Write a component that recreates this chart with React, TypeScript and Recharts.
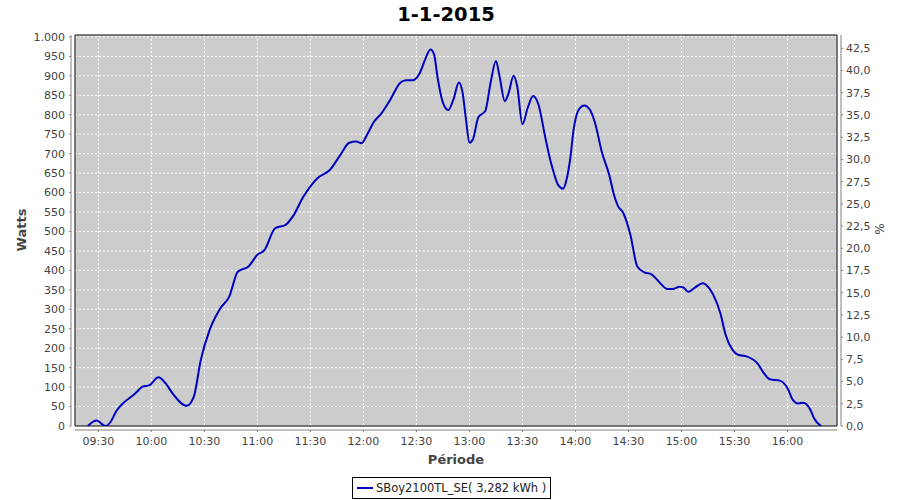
import { CartesianGrid, Line, LineChart, ReferenceArea, XAxis, YAxis } from 'recharts'

const title = '1-1-2015'
const seriesName = 'SBoy2100TL_SE( 3,282 kWh )'

// readings (time of day, watts)
const times = [
  '09:24', '09:29', '09:34', '09:37', '09:40', '09:43', '09:51', '09:55', '09:59', '10:04',
  '10:08', '10:12', '10:20', '10:24', '10:28', '10:33', '10:39', '10:44', '10:49', '10:55',
  '11:00', '11:04', '11:10', '11:16', '11:20', '11:26', '11:34', '11:41', '11:47', '11:52',
  '11:56', '11:59', '12:02', '12:06', '12:10', '12:15', '12:21', '12:24', '12:28', '12:32',
  '12:35', '12:38', '12:40', '12:42', '12:45', '12:48', '12:51', '12:54', '12:56', '12:58',
  '13:00', '13:02', '13:05', '13:09', '13:12', '13:15', '13:17', '13:20', '13:22', '13:25',
  '13:27', '13:30', '13:33', '13:36', '13:39', '13:43', '13:46', '13:48', '13:50', '13:53',
  '13:55', '13:57', '13:59', '14:02', '14:05', '14:08', '14:11', '14:15', '14:19', '14:22',
  '14:24', '14:27', '14:31', '14:35', '14:39', '14:43', '14:48', '14:52', '14:55', '14:59',
  '15:01', '15:04', '15:08', '15:12', '15:15', '15:18', '15:22', '15:25', '15:29', '15:32',
  '15:36', '15:43', '15:46', '15:50', '15:56', '16:00', '16:03', '16:06', '16:09', '16:13',
  '16:15', '16:19',
]
const watts = [
  0, 14, 0, 11, 37, 54, 84, 101, 105, 125,
  110, 84, 52, 75, 170, 247, 302, 332, 397, 410,
  440, 452, 508, 517, 538, 589, 637, 658, 697, 728,
  731, 727, 748, 782, 802, 837, 883, 889, 889, 908,
  943, 968, 955, 895, 831, 812, 840, 883, 860, 790,
  728, 737, 793, 810, 883, 938, 900, 835, 853, 900,
  874, 776, 818, 848, 827, 740, 679, 647, 621, 610,
  634, 686, 763, 814, 824, 814, 780, 703, 647, 591,
  566, 548, 493, 410, 395, 390, 367, 352, 352, 358,
  356, 345, 357, 367, 358, 337, 290, 234, 195, 183,
  180, 161, 140, 120, 116, 97, 67, 58, 60, 41,
  20, 0,
]

const timeTicks = [
  '09:30', '10:00', '10:30', '11:00', '11:30', '12:00', '12:30',
  '13:00', '13:30', '14:00', '14:30', '15:00', '15:30', '16:00',
]
const wattTicks = [
  0, 50, 100, 150, 200, 250, 300, 350, 400, 450, 500,
  550, 600, 650, 700, 750, 800, 850, 900, 950, 1000,
]
const pctTicks = [
  0, 2.5, 5, 7.5, 10, 12.5, 15, 17.5, 20, 22.5,
  25, 27.5, 30, 32.5, 35, 37.5, 40, 42.5,
]

const toMin = (s: string) => {
  const [h, m] = s.split(':').map(Number)
  return h * 60 + m
}
const pad = (n: number) => String(n).padStart(2, '0')
const fmtTime = (v: number) => `${pad(Math.floor(v / 60))}:${pad(v % 60)}`
const fmtWatts = (v: number) =>
  v >= 1000 ? `${Math.floor(v / 1000)}.${String(v % 1000).padStart(3, '0')}` : String(v)
const fmtPct = (v: number) => v.toFixed(1).replace('.', ',')

const xDomain: [number, number] = [556.8, 988]
const wDomain: [number, number] = [0, 1005]

const FONT = '"DejaVu Sans", Verdana, sans-serif'
const axisGray = '#808080'
const tickText = { fill: '#444444', fontSize: 11, fontFamily: FONT }

export default function App() {
  const data = times.map((t, i) => ({ t: toMin(t), w: watts[i] }))

  return (
    <div
      style={{
        position: 'absolute',
        left: 0,
        top: 0,
        width: 900,
        height: 500,
        background: '#fff',
        fontFamily: FONT,
      }}
    >
      <div
        style={{
          position: 'absolute',
          left: 446,
          top: 3,
          transform: 'translateX(-50%)',
          fontSize: 19.5,
          fontWeight: 'bold',
          color: '#000',
          whiteSpace: 'nowrap',
        }}
      >
        {title}
      </div>

      <LineChart width={900} height={500} data={data} margin={{ top: 35, right: 0, bottom: 0, left: 0 }}>
        <CartesianGrid
          yAxisId="w"
          fill="#cccccc"
          fillOpacity={1}
          stroke="#ffffff"
          strokeDasharray="2 2"
        />
        <XAxis
          dataKey="t"
          type="number"
          domain={xDomain}
          allowDataOverflow
          ticks={timeTicks.map(toMin)}
          tickFormatter={fmtTime}
          interval={0}
          height={74}
          tickSize={2}
          tickMargin={9}
          axisLine={{ stroke: axisGray, transform: 'translate(0, 4)' }}
          tickLine={{ stroke: axisGray, transform: 'translate(0, 4)' }}
          tick={tickText}
        />
        <YAxis
          yAxisId="w"
          orientation="left"
          width={75}
          type="number"
          domain={wDomain}
          allowDataOverflow
          ticks={wattTicks}
          tickFormatter={fmtWatts}
          interval={0}
          tickSize={2}
          tickMargin={8}
          axisLine={{ stroke: axisGray, transform: 'translate(-4, 0)' }}
          tickLine={{ stroke: axisGray, transform: 'translate(-4, 0)' }}
          tick={tickText}
        />
        <YAxis
          yAxisId="p"
          orientation="right"
          width={63}
          type="number"
          domain={[0, 44]}
          allowDataOverflow
          ticks={pctTicks}
          tickFormatter={fmtPct}
          interval={0}
          tickSize={2}
          tickMargin={7}
          axisLine={{ stroke: axisGray, transform: 'translate(4, 0)' }}
          tickLine={{ stroke: axisGray, transform: 'translate(4, 0)' }}
          tick={tickText}
        />
        <ReferenceArea
          yAxisId="w"
          x1={xDomain[0]}
          x2={xDomain[1]}
          y1={wDomain[0]}
          y2={wDomain[1]}
          fill="none"
          stroke="#000000"
          strokeWidth={1}
          ifOverflow="visible"
        />
        <Line
          yAxisId="w"
          dataKey="w"
          type="monotone"
          stroke="#0000c0"
          strokeWidth={2}
          dot={false}
          activeDot={false}
          isAnimationActive={false}
        />
      </LineChart>

      <div
        style={{
          position: 'absolute',
          left: 21,
          top: 230,
          transform: 'translate(-50%, -50%) rotate(-90deg)',
          fontSize: 13,
          fontWeight: 'bold',
          color: '#444',
          whiteSpace: 'nowrap',
        }}
      >
        Watts
      </div>
      <div
        style={{
          position: 'absolute',
          left: 879,
          top: 229,
          transform: 'translate(-50%, -50%) rotate(90deg)',
          fontSize: 12,
          color: '#444',
          whiteSpace: 'nowrap',
        }}
      >
        %
      </div>
      <div
        style={{
          position: 'absolute',
          left: 456,
          top: 452,
          transform: 'translateX(-50%)',
          fontSize: 13,
          fontWeight: 'bold',
          color: '#444',
          whiteSpace: 'nowrap',
        }}
      >
        Période
      </div>

      <div
        style={{
          position: 'absolute',
          left: 352,
          top: 477,
          height: 20,
          border: '1px solid #000',
          display: 'flex',
          alignItems: 'center',
          padding: '0 4px 0 4px',
          fontSize: 11.5,
          color: '#222',
          whiteSpace: 'nowrap',
        }}
      >
        <span
          style={{ display: 'inline-block', width: 16, height: 2, background: '#0000c0', marginRight: 3 }}
        />
        {seriesName}
      </div>
    </div>
  )
}
